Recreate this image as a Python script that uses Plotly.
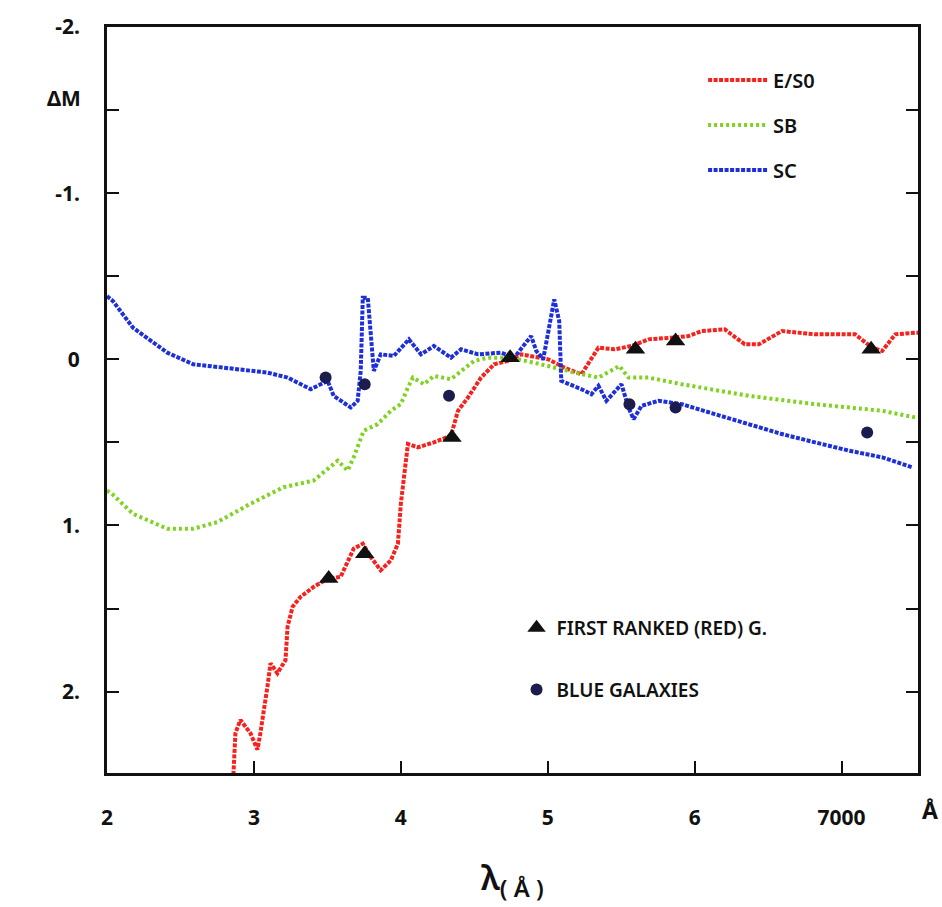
import plotly.graph_objects as go

# ---- data (wavelength in Angstrom, Delta M in mag) ----
e_s0_wl = [2855, 2874, 2908, 2976, 3024, 3044, 3092, 3113, 3160, 3215, 3229, 3263, 3317,
           3406, 3502, 3590, 3679, 3741, 3795, 3863, 3932, 3980, 4000, 4048, 4116, 4225,
           4341, 4389, 4457, 4546, 4635, 4730, 4819, 5003, 5113, 5229, 5345, 5454, 5570,
           5686, 5843, 5959, 6048, 6205, 6341, 6437, 6594, 6819, 7092, 7208, 7276, 7365, 7502, 7520]
e_s0_dm = [2.6, 2.25, 2.17, 2.25, 2.35, 2.25, 1.97, 1.83, 1.89, 1.81, 1.61, 1.49, 1.43,
           1.37, 1.32, 1.31, 1.14, 1.11, 1.19, 1.27, 1.21, 1.11, 0.87, 0.51, 0.53, 0.50,
           0.46, 0.31, 0.23, 0.11, 0.03, 0.01, -0.03, 0.00, 0.05, 0.09, -0.07, -0.06, -0.08,
           -0.12, -0.13, -0.14, -0.17, -0.18, -0.09, -0.09, -0.17, -0.15, -0.15, -0.07, -0.05, -0.15, -0.16, -0.16]

sb_wl = [2000, 2034, 2177, 2410, 2587, 2751, 2976, 3201, 3406, 3570, 3638, 3679, 3747,
         3843, 3932, 4000, 4048, 4082, 4157, 4225, 4341, 4410, 4498, 4594, 4751, 5003,
         5181, 5345, 5433, 5488, 5549, 5686, 5911, 6369, 6819, 7276, 7502]
sb_dm = [0.79, 0.81, 0.93, 1.02, 1.02, 0.98, 0.87, 0.77, 0.73, 0.61, 0.67, 0.59, 0.43,
         0.39, 0.31, 0.27, 0.17, 0.11, 0.15, 0.10, 0.12, 0.07, 0.01, -0.01, -0.01, 0.04,
         0.08, 0.11, 0.07, 0.04, 0.11, 0.11, 0.15, 0.22, 0.27, 0.31, 0.35]

sc_wl = [2000, 2041, 2177, 2410, 2587, 2860, 3092, 3229, 3386, 3502, 3543, 3659, 3706,
         3727, 3741, 3775, 3795, 3816, 3863, 3952, 4055, 4137, 4225, 4341, 4410, 4526,
         4683, 4771, 4887, 4922, 4969, 5044, 5078, 5092, 5229, 5297, 5345, 5399, 5502,
         5549, 5584, 5638, 5754, 5911, 6137, 6369, 6594, 6819, 7051, 7276, 7481]
sc_dm = [-0.38, -0.35, -0.19, -0.04, 0.03, 0.06, 0.08, 0.11, 0.18, 0.13, 0.22, 0.29, 0.25,
         0.07, -0.37, -0.37, -0.13, 0.07, -0.03, -0.02, -0.12, -0.03, -0.08, -0.01, -0.06, -0.03,
         -0.04, -0.01, -0.14, -0.05, 0.00, -0.36, -0.23, 0.13, 0.18, 0.21, 0.16, 0.25, 0.15,
         0.29, 0.36, 0.28, 0.25, 0.27, 0.33, 0.39, 0.45, 0.50, 0.55, 0.59, 0.65]

red_gal_wl = [3509, 3754, 4348, 4744, 5597, 5870, 7201]
red_gal_dm = [1.32, 1.17, 0.47, -0.01, -0.06, -0.11, -0.06]

blue_gal_wl = [3488, 3754, 4328, 5556, 5870, 7174]
blue_gal_dm = [0.11, 0.15, 0.22, 0.27, 0.29, 0.44]

x_tickvals = [2000, 3000, 4000, 5000, 6000, 7000]
x_ticktext = ["2", "3", "4", "5", "6", "7000"]
y_tickvals = [-2, -1.5, -1, -0.5, 0, 0.5, 1, 1.5, 2]
y_ticktext = ["-2.", " ", "-1.", " ", "0", " ", "1.", " ", "2."]

FONT = "Noto Sans"

fig = go.Figure()
fig.add_trace(go.Scatter(x=e_s0_wl, y=e_s0_dm, mode="lines", name="E/S0",
                         line=dict(color="#f5231e", width=4, dash="4px,1.5px"),
                         legendgroup="a", legend="legend"))
fig.add_trace(go.Scatter(x=sb_wl, y=sb_dm, mode="lines", name="SB",
                         line=dict(color="#7ed321", width=4, dash="3px,3px"),
                         legendgroup="b", legend="legend"))
fig.add_trace(go.Scatter(x=sc_wl, y=sc_dm, mode="lines", name="SC",
                         line=dict(color="#1e2fd8", width=4, dash="4px,1.5px"),
                         legendgroup="c", legend="legend"))
fig.add_trace(go.Scatter(x=red_gal_wl, y=red_gal_dm, mode="markers", name="FIRST RANKED (RED) G.",
                         marker=dict(symbol="triangle-up", size=17, color="#111111"),
                         legendgroup="d", legend="legend2"))
fig.add_trace(go.Scatter(x=blue_gal_wl, y=blue_gal_dm, mode="markers", name="BLUE GALAXIES",
                         marker=dict(symbol="circle", size=12, color="#1c1c4e"),
                         legendgroup="e", legend="legend2"))

fig.update_layout(
    width=942, height=907,
    margin=dict(l=107, r=24, t=24, b=134),
    paper_bgcolor="white", plot_bgcolor="white",
    font=dict(family=FONT, color="#111111", size=20, weight=600),
    legend=dict(x=0.735, y=0.955, xanchor="left", yanchor="top",
                font=dict(size=20, family=FONT, weight=600), tracegroupgap=16,
                bgcolor="rgba(0,0,0,0)", itemwidth=60),
    legend2=dict(x=0.505, y=0.22, xanchor="left", yanchor="top",
                 font=dict(size=19, family=FONT, weight=600), tracegroupgap=34,
                 bgcolor="rgba(0,0,0,0)"),
    xaxis=dict(range=[2000, 7520], tickvals=x_tickvals, ticktext=x_ticktext,
               ticks="inside", ticklen=12, tickwidth=2, tickcolor="#111",
               showline=True, linewidth=3, linecolor="#111", mirror=True,
               showgrid=False, zeroline=False,
               tickfont=dict(size=21, family=FONT, weight=700), ticklabelstandoff=24),
    yaxis=dict(range=[2.49, -2.0], tickvals=y_tickvals, ticktext=y_ticktext,
               ticks="inside", ticklen=12, tickwidth=2, tickcolor="#111",
               showline=True, linewidth=3, linecolor="#111", mirror="ticks",
               showgrid=False, zeroline=False,
               tickfont=dict(size=21, family=FONT, weight=700), ticklabelstandoff=20),
    annotations=[
        dict(text="ΔM", x=-0.03, y=0.905, xref="paper", yref="paper", showarrow=False,
             xanchor="right", yanchor="middle", font=dict(size=21, family=FONT, weight=700)),
        dict(text="Å", x=1.015, y=-0.05, xref="paper", yref="paper", showarrow=False,
             xanchor="center", yanchor="middle", font=dict(size=23, family=FONT, weight=700)),
        dict(text="λ<sub>( Å )</sub>", x=0.5, y=-0.142, xref="paper", yref="paper",
             showarrow=False, xanchor="center", yanchor="middle",
             font=dict(size=34, family=FONT, weight=600)),
    ],
)

fig.write_html("out.html")
